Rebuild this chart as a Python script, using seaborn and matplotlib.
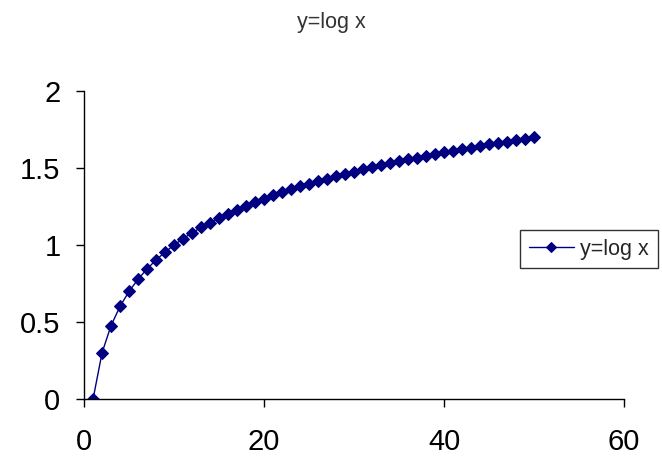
import pandas as pd
import matplotlib.pyplot as plt
import seaborn as sns

# Values
x_vals = list(range(1, 51))
y_vals = [0.000, 0.301, 0.477, 0.602, 0.699, 0.778, 0.845, 0.903, 0.954, 1.000,
          1.041, 1.079, 1.114, 1.146, 1.176, 1.204, 1.230, 1.255, 1.279, 1.301,
          1.322, 1.342, 1.362, 1.380, 1.398, 1.415, 1.431, 1.447, 1.462, 1.477,
          1.491, 1.505, 1.519, 1.531, 1.544, 1.556, 1.568, 1.580, 1.591, 1.602,
          1.613, 1.623, 1.633, 1.643, 1.653, 1.663, 1.672, 1.681, 1.690, 1.699]
x_ticks = [0, 20, 40, 60]
y_ticks = [0, 0.5, 1, 1.5, 2]
y_tick_labels = ['0', '0.5', '1', '1.5', '2']

df = pd.DataFrame({'x': x_vals, 'y': y_vals})

sns.set_style('white')
plt.rcParams['font.family'] = ['Liberation Sans', 'DejaVu Sans']

fig = plt.figure(figsize=(6.62, 4.59), dpi=100)
ax = fig.add_axes([0.127, 0.1307, 0.8156, 0.671])

sns.lineplot(data=df, x='x', y='y', ax=ax, color='#000080', marker='D',
             markersize=6.5, markeredgecolor='#000080', linewidth=1,
             label='y=log x')

ax.set_xlim(0, 60)
ax.set_ylim(0, 2)
ax.set_xticks(x_ticks)
ax.set_yticks(y_ticks)
ax.set_yticklabels(y_tick_labels)
ax.set_xlabel('')
ax.set_ylabel('')
ax.tick_params(axis='both', direction='out', length=6, width=1, color='black',
               labelsize=21, labelcolor='black', left=True, bottom=True)
ax.tick_params(axis='x', pad=15)
ax.tick_params(axis='y', pad=11)
for side in ['top', 'right']:
    ax.spines[side].set_visible(False)
for side in ['left', 'bottom']:
    ax.spines[side].set_color('black')
    ax.spines[side].set_linewidth(1)

fig.text(0.5, 0.952, 'y=log x', ha='center', va='center', fontsize=15.5, color='#333333')

leg = ax.legend(loc='upper left', bbox_to_anchor=(520 / 662, 1 - 230 / 459),
                bbox_transform=fig.transFigure, borderaxespad=0, fontsize=15.5,
                frameon=True, fancybox=False, handlelength=2.1, borderpad=0.4,
                handletextpad=0.3, markerscale=0.8)
leg.get_frame().set_edgecolor('black')
leg.get_frame().set_linewidth(1)

plt.savefig('out.png', dpi=100)
